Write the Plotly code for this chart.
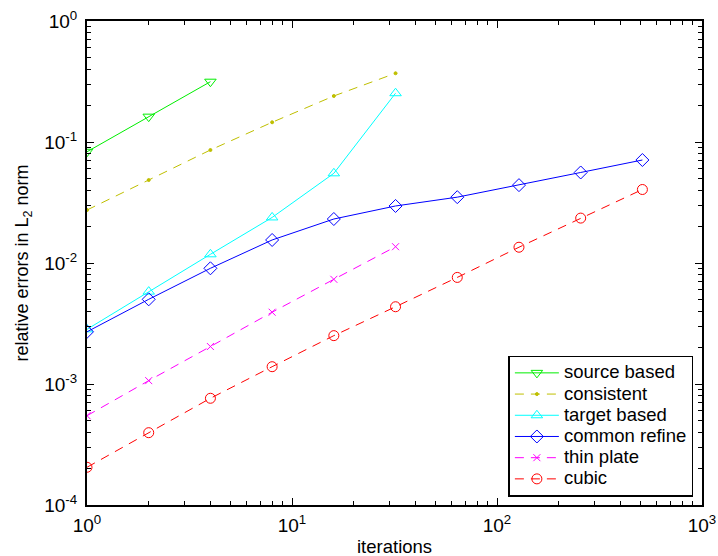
import plotly.graph_objects as go

iters = [1, 2, 4, 8, 16, 32, 64, 128, 256, 512]

source_based = [0.083, 0.162, 0.315]
consistent = [0.0274, 0.0485, 0.0859, 0.1455, 0.240, 0.370]
target_based = [0.00283, 0.0058, 0.0118, 0.0238, 0.0551, 0.253]
common_refine = [0.0027, 0.00501, 0.00904, 0.0155, 0.0231, 0.0296, 0.035, 0.044, 0.056, 0.071]
thin_plate = [0.000547, 0.001066, 0.00204, 0.00392, 0.00733, 0.01364]
cubic = [0.000205, 0.000396, 0.000762, 0.00139, 0.00251, 0.00435, 0.0076, 0.0135, 0.0235, 0.0405]

x_tickvals = [1, 10, 100, 1000]
x_ticktext = ["10<sup>0</sup>", "10<sup>1</sup>", "10<sup>2</sup>", "10<sup>3</sup>"]
y_tickvals = [1e-4, 1e-3, 1e-2, 1e-1, 1]
y_ticktext = ["10<sup>-4</sup>", "10<sup>-3</sup>", "10<sup>-2</sup>", "10<sup>-1</sup>", "10<sup>0</sup>"]

series = [
    ("source based", source_based, "#00ee00", "solid", "triangle-down-open", 10),
    ("consistent", consistent, "#bfbf00", "9px,7px", "circle", 3),
    ("target based", target_based, "#00ffff", "solid", "triangle-up-open", 10),
    ("common refine", common_refine, "#0000ff", "solid", "diamond-open", 10),
    ("thin plate", thin_plate, "#ff00ff", "9px,7px", "x-thin-open", 7),
    ("cubic", cubic, "#ff0000", "9px,7px", "circle-open", 10),
]

fig = go.Figure()
for name, ys, color, dash, sym, size in series:
    fig.add_trace(go.Scatter(
        x=iters[:len(ys)], y=ys,
        name='<span style="font-size:18.5px">' + name + '</span>',
        mode="lines+markers",
        line=dict(color=color, width=1, dash=dash),
        marker=dict(symbol=sym, size=size, color=color,
                    line=dict(color=color, width=1)),
    ))

def minors(lo, hi):
    out = []
    for e in range(lo, hi):
        for m in range(2, 10):
            out.append(m * 10 ** e)
    return out

font = "Liberation Sans, Arial, Helvetica, sans-serif"
fig.update_layout(
    template="none",
    width=718, height=556,
    margin=dict(l=87, r=16, t=21, b=51, autoexpand=False),
    paper_bgcolor="white", plot_bgcolor="white",
    font=dict(family=font, size=18, color="black"),
    showlegend=True,
    legend=dict(x=0.986, y=0.017, xanchor="right", yanchor="bottom",
                bgcolor="white", bordercolor="black", borderwidth=1.5,
                font=dict(size=14), tracegroupgap=0, itemwidth=44,
                entrywidth=147, entrywidthmode="pixels"),
    xaxis=dict(type="log", range=[0, 3], tickvals=x_tickvals, ticktext=x_ticktext,
               automargin=False, ticklabeloverflow="allow",
               ticks="inside", ticklen=7, tickwidth=1, tickcolor="black",
               showline=True, linecolor="black", linewidth=2, mirror="allticks",
               showgrid=False, zeroline=False, ticklabelstandoff=2,
               minor=dict(tickvals=minors(0, 3), ticks="inside", ticklen=4,
                          tickcolor="black", showgrid=False),
               tickfont=dict(size=19)),
    yaxis=dict(type="log", range=[-4, 0], tickvals=y_tickvals, ticktext=y_ticktext,
               automargin=False, ticklabeloverflow="allow",
               ticks="inside", ticklen=7, tickwidth=1, tickcolor="black",
               showline=True, linecolor="black", linewidth=2, mirror="allticks",
               showgrid=False, zeroline=False, ticklabelstandoff=4,
               minor=dict(tickvals=minors(-4, 0), ticks="inside", ticklen=4,
                          tickcolor="black", showgrid=False),
               title=dict(text="relative errors in L<sub>2</sub> norm", standoff=11,
                          font=dict(size=18)),
               tickfont=dict(size=19)),
    annotations=[dict(text="iterations", xref="paper", yref="paper",
                      x=0.5, y=-(546 - 505) / 484, xanchor="center", yanchor="middle",
                      showarrow=False, font=dict(size=18.5))],
)

fig.write_html("out.html")
